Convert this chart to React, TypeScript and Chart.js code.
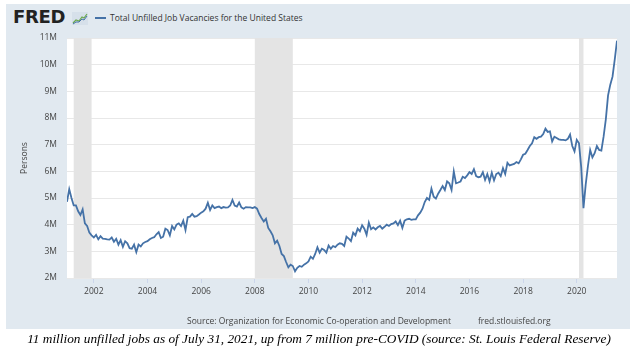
import React, { useEffect, useRef } from "react";
import { Chart, registerables } from "chart.js";
Chart.register(...registerables);

// Monthly values, millions of persons, Jan 2001 .. Jul 2021
const y2001 = [4.86, 5.33, 5.0, 4.72, 4.72, 4.5, 4.36, 4.57, 4.05, 3.95, 3.7, 3.6];
const y2002 = [3.52, 3.62, 3.45, 3.57, 3.48, 3.47, 3.45, 3.44, 3.52, 3.36, 3.47, 3.25];
const y2003 = [3.42, 3.17, 3.38, 3.3, 3.12, 3.1, 3.25, 2.97, 3.25, 3.18, 3.3, 3.35];
const y2004 = [3.38, 3.45, 3.5, 3.53, 3.64, 3.72, 3.5, 3.55, 3.85, 3.8, 3.6, 3.95];
const y2005 = [3.82, 4.0, 4.05, 3.95, 4.15, 3.8, 4.28, 4.3, 4.4, 4.3, 4.32, 4.38];
const y2006 = [4.45, 4.5, 4.6, 4.82, 4.55, 4.72, 4.62, 4.66, 4.68, 4.62, 4.66, 4.64];
const y2007 = [4.65, 4.72, 4.93, 4.72, 4.68, 4.83, 4.65, 4.6, 4.66, 4.65, 4.65, 4.62];
const y2008 = [4.66, 4.6, 4.4, 4.25, 4.12, 4.22, 3.88, 3.75, 3.6, 3.3, 3.4, 3.2];
const y2009 = [2.9, 2.82, 2.6, 2.4, 2.5, 2.45, 2.25, 2.38, 2.45, 2.42, 2.5, 2.55];
const y2010 = [2.62, 2.8, 2.72, 2.9, 3.15, 2.95, 3.1, 3.05, 2.95, 3.22, 3.1, 3.2];
const y2011 = [3.16, 3.25, 3.3, 3.28, 3.2, 3.55, 3.48, 3.38, 3.7, 3.6, 3.85, 3.75];
const y2012 = [3.98, 3.85, 3.62, 4.08, 3.83, 3.9, 3.82, 3.9, 3.95, 3.85, 3.92, 4.0];
const y2013 = [3.95, 4.02, 4.05, 4.12, 3.98, 4.15, 3.88, 4.15, 4.2, 4.22, 4.18, 4.2];
const y2014 = [4.2, 4.35, 4.45, 4.6, 4.85, 5.0, 4.93, 5.35, 5.05, 4.98, 5.16, 5.3];
const y2015 = [5.45, 5.3, 5.62, 5.55, 5.3, 6.0, 5.55, 5.58, 5.62, 5.8, 5.75, 5.85];
const y2016 = [5.97, 5.9, 6.08, 5.82, 5.78, 5.8, 5.97, 5.68, 5.9, 5.62, 5.95, 5.66];
const y2017 = [5.9, 5.95, 5.82, 6.12, 5.9, 6.32, 6.22, 6.25, 6.28, 6.35, 6.3, 6.45];
const y2018 = [6.62, 6.66, 6.8, 6.95, 7.05, 7.28, 7.22, 7.28, 7.3, 7.4, 7.6, 7.48];
const y2019 = [7.5, 7.12, 7.3, 7.25, 7.2, 7.18, 7.18, 7.16, 7.22, 7.38, 6.95, 6.75];
const y2020 = [7.18, 7.05, 6.15, 4.62, 5.5, 6.2, 6.8, 6.52, 6.68, 6.95, 6.8, 6.78];
const y2021 = [7.3, 7.95, 8.85, 9.25, 9.55, 10.2, 10.9];

const FIRST_YEAR = 2001;
const yearTicks = [2002, 2004, 2006, 2008, 2010, 2012, 2014, 2016, 2018, 2020];
const recessionStarts = ["2001-04", "2008-01", "2020-02"];
const recessionEnds = ["2001-12", "2009-06", "2020-04"];

const SERIES_TITLE = "Total Unfilled Job Vacancies for the United States";
const Y_TITLE = "Persons";
const SOURCE = "Source: Organization for Economic Co-operation and Development";
const SITE = "fred.stlouisfed.org";
const CAPTION =
  "11 million unfilled jobs as of July 31, 2021, up from 7 million pre-COVID (source: St. Louis Federal Reserve)";

const monthIndex = (s: string) => {
  const [y, m] = s.split("-").map(Number);
  return (y - FIRST_YEAR) * 12 + (m - 1);
};

const FONT = "'Open Sans', 'DejaVu Sans', sans-serif";

export default function App() {
  const ref = useRef<HTMLCanvasElement>(null);

  useEffect(() => {
    const values = [
      ...y2001, ...y2002, ...y2003, ...y2004, ...y2005, ...y2006, ...y2007,
      ...y2008, ...y2009, ...y2010, ...y2011, ...y2012, ...y2013, ...y2014,
      ...y2015, ...y2016, ...y2017, ...y2018, ...y2019, ...y2020, ...y2021,
    ];
    const points = values.map((v, i) => ({ x: i, y: v }));

    const bgPlugin = {
      id: "plotBg",
      beforeDraw(chart: any) {
        const { ctx, chartArea } = chart;
        ctx.save();
        ctx.fillStyle = "#ffffff";
        ctx.fillRect(chartArea.left, chartArea.top, chartArea.right - chartArea.left, chartArea.bottom - chartArea.top);
        ctx.restore();
      },
    };
    const recessionPlugin = {
      id: "recessions",
      beforeDatasetsDraw(chart: any) {
        const { ctx, chartArea, scales } = chart;
        ctx.save();
        ctx.fillStyle = "#e4e4e4";
        recessionStarts.forEach((s, i) => {
          const x0 = scales.x.getPixelForValue(monthIndex(s));
          const x1 = scales.x.getPixelForValue(monthIndex(recessionEnds[i]));
          ctx.fillRect(x0, chartArea.top, x1 - x0, chartArea.bottom - chartArea.top);
        });
        ctx.restore();
      },
    };

    const chart = new Chart(ref.current as HTMLCanvasElement, {
      type: "line",
      data: {
        datasets: [
          {
            data: points,
            borderColor: "#4572a7",
            borderWidth: 1.8,
            pointRadius: 0,
            tension: 0,
            fill: false,
          },
        ],
      },
      options: {
        animation: false,
        responsive: false,
        devicePixelRatio: 1,
        layout: { padding: { left: 0, right: 19, top: 38, bottom: 0 } },
        plugins: { legend: { display: false }, tooltip: { enabled: false } },
        scales: {
          x: {
            type: "linear",
            min: 0,
            max: values.length - 1,
            afterBuildTicks: (s: any) => {
              s.ticks = yearTicks.map((y) => ({ value: (y - FIRST_YEAR) * 12 }));
            },
            afterFit: (s: any) => {
              s.height = 81;
            },
            grid: { drawOnChartArea: false, drawTicks: true, tickLength: 5, tickColor: "#ccd6eb" },
            border: { display: false },
            ticks: {
              autoSkip: false,
              maxRotation: 0,
              padding: 3,
              color: "#444",
              font: { family: FONT, size: 8.5 },
              callback: (v: any) => String(FIRST_YEAR + Math.round(Number(v) / 12)),
            },
          },
          y: {
            min: 2,
            max: 11,
            afterFit: (s: any) => {
              s.width = 67;
            },
            grid: { color: "#e8e8e8", drawTicks: false },
            border: { display: false },
            ticks: {
              stepSize: 1,
              padding: 10,
              color: "#444",
              font: { family: FONT, size: 8.5 },
              callback: (v: any) => `${v}M`,
            },
            title: {
              display: true,
              text: Y_TITLE,
              color: "#444",
              font: { family: FONT, size: 8.5 },
              padding: { top: 19, bottom: 0 },
            },
          },
        },
      },
      plugins: [bgPlugin, recessionPlugin],
    });
    return () => chart.destroy();
  }, []);

  return (
    <div style={{ position: "absolute", left: 0, top: 0, width: 636, height: 359, background: "#ffffff", overflow: "hidden" }}>
      <div style={{ position: "absolute", left: 6, top: 4, width: 624, height: 325, background: "#e1e9f0" }} />
      <div
        style={{
          position: "absolute",
          left: 13,
          top: 7,
          fontFamily: "'DejaVu Sans', sans-serif",
          fontWeight: 700,
          fontSize: 18,
          lineHeight: "20px",
          letterSpacing: -0.3,
          color: "#222",
        }}
      >
        FRED
      </div>
      <svg style={{ position: "absolute", left: 72, top: 12 }} width={16} height={13} viewBox="0 0 16 13">
        <rect x={0} y={0} width={16} height={13} fill="#d6e0ea" />
        <polyline points="1,11 4,8 7,9 10,5 12,6 15,2" fill="none" stroke="#6aa84f" strokeWidth={1.2} />
        <polyline points="1,12 4,10 7,10 10,7 12,8 15,4" fill="none" stroke="#4572a7" strokeWidth={1} />
      </svg>
      <div style={{ position: "absolute", left: 95, top: 17, width: 11, height: 2, background: "#4572a7" }} />
      <div
        style={{
          position: "absolute",
          left: 110,
          top: 12,
          fontFamily: FONT,
          fontSize: 8.5,
          lineHeight: "12px",
          color: "#333",
          whiteSpace: "nowrap",
        }}
      >
        {SERIES_TITLE}
      </div>
      <canvas ref={ref} width={636} height={359} style={{ position: "absolute", left: 0, top: 0, width: 636, height: 359 }} />
      <div
        style={{
          position: "absolute",
          left: 187,
          top: 315,
          fontFamily: FONT,
          fontSize: 8.5,
          lineHeight: "12px",
          color: "#444",
          whiteSpace: "nowrap",
        }}
      >
        {SOURCE}
      </div>
      <div
        style={{
          position: "absolute",
          left: 478,
          top: 315,
          fontFamily: FONT,
          fontSize: 8.5,
          lineHeight: "12px",
          color: "#444",
          whiteSpace: "nowrap",
        }}
      >
        {SITE}
      </div>
      <div
        style={{
          position: "absolute",
          left: 0,
          top: 331,
          width: 638,
          textAlign: "center",
          fontFamily: "'Liberation Serif', 'Times New Roman', serif",
          fontStyle: "italic",
          fontSize: 13.3,
          lineHeight: "16px",
          color: "#000",
          whiteSpace: "nowrap",
        }}
      >
        {CAPTION}
      </div>
    </div>
  );
}
